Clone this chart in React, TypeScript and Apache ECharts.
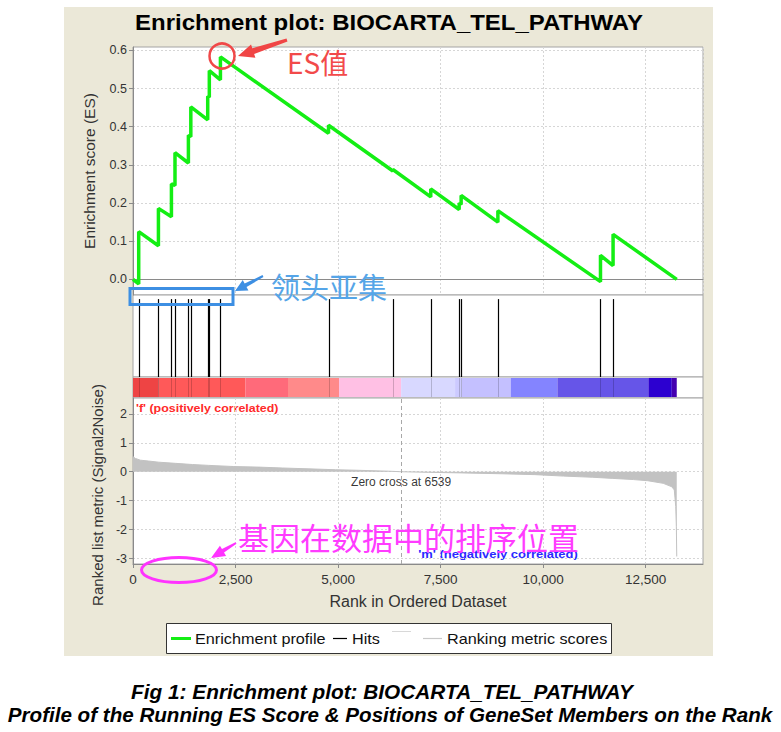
import React, { useEffect, useRef } from 'react';
import * as echarts from 'echarts';

// ---------- data ----------
const rankTicks = [0, 2500, 5000, 7500, 10000, 12500];
const esTicks = [0, 0.1, 0.2, 0.3, 0.4, 0.5, 0.6];
const metricTicks = [-3, -2, -1, 0, 1, 2];

const esRanks = [0, 139, 139, 620, 620, 937, 937, 1024, 1024, 1351, 1351, 1410, 1410, 1822, 1822, 1861, 1861, 2132, 2132, 4768, 4768, 6337, 6337, 7261, 7261, 7954, 7954, 8002, 8002, 8898, 8898, 11400, 11400, 11707, 11707, 13260];
const esValues = [0, -0.012, 0.125, 0.088, 0.186, 0.164, 0.25, 0.246, 0.332, 0.305, 0.378, 0.374, 0.452, 0.418, 0.48, 0.477, 0.547, 0.523, 0.583, 0.383, 0.404, 0.284, 0.288, 0.216, 0.237, 0.183, 0.2, 0.196, 0.22, 0.15, 0.18, -0.006, 0.063, 0.036, 0.118, 0];

const hitRanks = [139, 620, 937, 1024, 1351, 1410, 1822, 1861, 2132, 4768, 6337, 7261, 7954, 8002, 8898, 11400, 11707];

const colorBreaks = [0, 627, 2739, 3780, 5024, 6539, 7854, 8017, 9212, 10349, 12568, 13139, 13260];

const metricRanks = [0, 60, 180, 380, 630, 1040, 1450, 1850, 2460, 3070, 3640, 4290, 4940, 5500, 6230, 6539, 7200, 8000, 9000, 9800, 10500, 11200, 11700, 12200, 12550, 12930, 13140, 13200, 13235, 13250, 13260];
const metricValues = [0.52, 0.46, 0.4, 0.37, 0.33, 0.29, 0.25, 0.22, 0.18, 0.16, 0.13, 0.1, 0.07, 0.05, 0.02, 0, -0.02, -0.04, -0.07, -0.1, -0.15, -0.19, -0.23, -0.27, -0.31, -0.4, -0.52, -0.63, -1.2, -1.9, -2.93];

const zeroCross = 6539;
const zeroCrossLabelY = -0.345;
const rankMax = 13900;

// ---------- styles ----------
const colorPalette = ['#ee4444', '#ff5959', '#ff6a7a', '#ff8a8a', '#ffc0e4', '#d8d8ff', '#cccaff', '#c4c0ff', '#8484ff', '#6655e8', '#2c00d0', '#4400b0'];
const FONT = '"Liberation Sans", Arial, sans-serif';
const CJK = '"Noto Sans CJK SC", sans-serif';
const NARROW = '"Liberation Sans Narrow", "Arial Narrow", "Liberation Sans", sans-serif';
const GREEN = '#14ee14';
const GRID_LEFT = 133;
const GRID_W = 570;

function arrowPoints(x1: number, y1: number, x2: number, y2: number, headLen: number, headW: number, baseW: number, tailW: number) {
  const dx = x2 - x1, dy = y2 - y1;
  const L = Math.hypot(dx, dy);
  const ux = dx / L, uy = dy / L;
  const nx = -uy, ny = ux;
  const bx = x2 - ux * headLen, by = y2 - uy * headLen;
  return [
    [x1 + nx * tailW / 2, y1 + ny * tailW / 2],
    [bx + nx * baseW / 2, by + ny * baseW / 2],
    [bx + nx * headW / 2, by + ny * headW / 2],
    [x2, y2],
    [bx - nx * headW / 2, by - ny * headW / 2],
    [bx - nx * baseW / 2, by - ny * baseW / 2],
    [x1 - nx * tailW / 2, y1 - ny * tailW / 2],
  ];
}

const dashed = { type: [2, 2] as any, color: '#d6d6d6', width: 1 };

export default function App() {
  const ref = useRef<HTMLDivElement>(null);
  useEffect(() => {
    if (!ref.current) return;
    const chart = echarts.init(ref.current, null, { renderer: 'svg' });
    const gridBase = { left: GRID_LEFT, width: GRID_W, show: true, backgroundColor: '#fff', borderColor: '#a4a4a4', borderWidth: 1 };
    const hiddenX = (gi: number) => ({
      type: 'value', gridIndex: gi, min: 0, max: rankMax, interval: 2500,
      axisLine: { show: false }, axisTick: { show: false }, axisLabel: { show: false }, splitLine: { show: false },
    });
    const legendText = (x: number, text: string) => ({
      type: 'text', x, y: 638.5, scaleX: 1.08,
      style: { text, align: 'left', verticalAlign: 'middle', fill: '#111', font: `15px ${FONT}` },
    });
    const option: any = {
      animation: false,
      backgroundColor: '#ffffff',
      grid: [
        { ...gridBase, top: 47, height: 248 },
        { ...gridBase, top: 295, height: 82 },
        { ...gridBase, top: 377, height: 21 },
        { ...gridBase, top: 398, height: 166 },
      ],
      xAxis: [
        {
          type: 'value', gridIndex: 0, min: 0, max: rankMax, interval: 2500,
          axisLine: { show: true, onZero: true, lineStyle: { color: '#8a8a8a', width: 1 } },
          axisTick: { show: false }, axisLabel: { show: false },
          splitLine: { show: true, lineStyle: dashed },
        },
        hiddenX(1),
        hiddenX(2),
        {
          type: 'value', gridIndex: 3, min: 0, max: rankMax, interval: 2500,
          axisLine: { show: true, onZero: false, lineStyle: { color: '#8a8a8a' } },
          axisTick: { show: true, customValues: rankTicks, length: 4, lineStyle: { color: '#8a8a8a' } },
          axisLabel: { show: true, customValues: rankTicks, formatter: (v: number) => v.toLocaleString('en-US'), fontSize: 13.5, color: '#333', fontFamily: FONT, margin: 8 },
          splitLine: { show: true, lineStyle: dashed },
          name: 'Rank in Ordered Dataset', nameLocation: 'middle', nameGap: 29,
          nameTextStyle: { fontSize: 16, color: '#333', fontFamily: FONT },
        },
      ],
      yAxis: [
        {
          type: 'value', gridIndex: 0, min: -0.041, max: 0.609,
          axisLine: { show: true, lineStyle: { color: '#8a8a8a' } },
          axisTick: { show: true, customValues: esTicks, length: 4, lineStyle: { color: '#8a8a8a' } },
          axisLabel: { show: true, customValues: esTicks, formatter: (v: number) => v.toFixed(1), fontSize: 12.5, color: '#333', fontFamily: FONT, margin: 6 },
          splitLine: { show: true, lineStyle: dashed },
          name: 'Enrichment score (ES)', nameLocation: 'middle', nameGap: 36,
          nameTextStyle: { fontSize: 15.5, color: '#333', fontFamily: FONT },
        },
        { type: 'value', gridIndex: 1, min: 0, max: 1, show: false, splitLine: { show: false } },
        { type: 'value', gridIndex: 2, min: -0.05, max: 1.05, show: false, splitLine: { show: false } },
        {
          type: 'value', gridIndex: 3, min: -3.19, max: 2.55,
          axisLine: { show: true, lineStyle: { color: '#8a8a8a' } },
          axisTick: { show: true, customValues: metricTicks, length: 4, lineStyle: { color: '#8a8a8a' } },
          axisLabel: { show: true, customValues: metricTicks, fontSize: 12.5, color: '#333', fontFamily: FONT, margin: 6 },
          splitLine: { show: true, lineStyle: dashed },
        },
      ],
      series: [
        {
          type: 'line', name: 'Enrichment profile', xAxisIndex: 0, yAxisIndex: 0,
          data: esRanks.map((r, i) => [r, esValues[i]]),
          showSymbol: false, lineStyle: { color: GREEN, width: 3.5 }, z: 5,
        },
        {
          type: 'custom', name: 'Hits', xAxisIndex: 1, yAxisIndex: 1,
          data: hitRanks.map((r) => [r, 0]), encode: { x: 0, y: 1 },
          renderItem: (_p: any, api: any) => {
            const a = api.coord([api.value(0), 0]);
            const b = api.coord([api.value(0), 0.95]);
            const x = Math.round(a[0]) + 0.5;
            return { type: 'line', shape: { x1: x, y1: a[1], x2: x, y2: b[1] }, style: { stroke: '#000', lineWidth: 1.2 } };
          },
        },
        {
          type: 'custom', name: 'Colorbar', xAxisIndex: 2, yAxisIndex: 2,
          data: colorBreaks.slice(0, -1).map((s, i) => [s, colorBreaks[i + 1], i]), encode: { x: [0, 1] },
          renderItem: (_p: any, api: any) => {
            const a = api.coord([api.value(0), 1]);
            const b = api.coord([api.value(1), 0]);
            return { type: 'rect', shape: { x: a[0], y: a[1], width: b[0] - a[0], height: b[1] - a[1] }, style: { fill: colorPalette[api.value(2)] } };
          },
        },
        {
          type: 'custom', name: 'HitsOnBar', xAxisIndex: 2, yAxisIndex: 2,
          data: hitRanks.map((r) => [r, 0]), encode: { x: 0, y: 1 }, z: 3,
          renderItem: (_p: any, api: any) => {
            const a = api.coord([api.value(0), 0]);
            const b = api.coord([api.value(0), 1]);
            const x = Math.round(a[0]) + 0.5;
            return { type: 'line', shape: { x1: x, y1: a[1], x2: x, y2: b[1] }, style: { stroke: 'rgba(0,0,0,0.18)', lineWidth: 1 } };
          },
        },
        {
          type: 'line', name: 'Ranking metric scores', xAxisIndex: 3, yAxisIndex: 3,
          data: metricRanks.map((r, i) => [r, metricValues[i]]),
          showSymbol: false, lineStyle: { color: '#c2c2c2', width: 1 }, areaStyle: { color: '#c2c2c2', opacity: 1 },
          markLine: {
            silent: true, symbol: 'none', label: { show: false },
            lineStyle: { color: '#a8a8a8', type: [4, 3], width: 1 },
            data: [{ xAxis: zeroCross }],
          },
        },
        {
          type: 'scatter', xAxisIndex: 3, yAxisIndex: 3, data: [[zeroCross, zeroCrossLabelY]],
          symbolSize: 1, itemStyle: { color: 'transparent' },
          label: { show: true, position: 'inside', formatter: `Zero cross at ${zeroCross}`, fontSize: 12, color: '#000', fontFamily: FONT },
        },
      ],
      graphic: [
        { type: 'rect', z: -100, shape: { x: 64, y: 7, width: 649, height: 649 }, style: { fill: '#ebe8d8' } },
        { type: 'text', x: 389, y: 22, scaleX: 1.09, style: { text: 'Enrichment plot: BIOCARTA_TEL_PATHWAY', align: 'center', verticalAlign: 'middle', fill: '#000', font: `bold 22px ${FONT}` } },
        { type: 'text', x: 136, y: 407.5, scaleX: 1.13, style: { text: "'f' (positively correlated)", align: 'left', verticalAlign: 'middle', fill: '#ff2a2a', font: `bold 11px ${FONT}` } },
        { type: 'text', x: 498, y: 554, scaleX: 1.18, style: { text: "'m' (negatively correlated)", align: 'center', verticalAlign: 'middle', fill: '#2a2aff', font: `bold 11px ${FONT}` } },
        { type: 'text', x: 97, y: 495, rotation: Math.PI / 2, style: { text: 'Ranked list metric (Signal2Noise)', align: 'center', verticalAlign: 'middle', fill: '#333', font: `15px ${FONT}` } },
        // annotations
        { type: 'circle', z: 20, shape: { cx: 222, cy: 56, r: 12.5 }, style: { fill: 'none', stroke: '#f04848', lineWidth: 2.5 } },
        { type: 'polygon', z: 20, shape: { points: arrowPoints(287, 40, 238, 56, 16, 14, 6, 3) }, style: { fill: '#f04545' } },
        { type: 'text', z: 20, x: 287, y: 62, style: { text: 'ES值', align: 'left', verticalAlign: 'middle', fill: '#f24a4a', font: `28px ${CJK}` } },
        { type: 'rect', z: 20, shape: { x: 130, y: 288.5, width: 103, height: 16 }, style: { fill: 'none', stroke: '#3d8fe3', lineWidth: 3 } },
        { type: 'polygon', z: 20, shape: { points: arrowPoints(263, 276, 235, 291, 12, 12, 4, 2) }, style: { fill: '#3d8fe3' } },
        { type: 'text', z: 20, x: 271, y: 286, style: { text: '领头亚集', align: 'left', verticalAlign: 'middle', fill: '#55a5e8', font: `29px ${CJK}` } },
        { type: 'ellipse', z: 20, shape: { cx: 179, cy: 570, rx: 37.5, ry: 12.5 }, style: { fill: 'none', stroke: '#ff33ff', lineWidth: 3 } },
        { type: 'polygon', z: 20, shape: { points: arrowPoints(236, 543, 211, 558, 14, 12, 4, 2) }, style: { fill: '#ff33ff' } },
        { type: 'text', z: 20, x: 238, y: 536, style: { text: '基因在数据中的排序位置', align: 'left', verticalAlign: 'middle', fill: '#ff3cff', font: `31px ${CJK}` } },
        // legend
        { type: 'rect', shape: { x: 166.5, y: 623.5, width: 445, height: 30 }, style: { fill: '#fff', stroke: '#333', lineWidth: 1 } },
        { type: 'line', shape: { x1: 171, y1: 638.5, x2: 191, y2: 638.5 }, style: { stroke: GREEN, lineWidth: 3 } },
        legendText(195, 'Enrichment profile'),
        { type: 'line', shape: { x1: 333, y1: 638.5, x2: 347, y2: 638.5 }, style: { stroke: '#000', lineWidth: 1.2 } },
        legendText(352, 'Hits'),
        { type: 'line', shape: { x1: 392, y1: 631.5, x2: 411, y2: 631.5 }, style: { stroke: '#d8d8d8', lineWidth: 1 } },
        { type: 'line', shape: { x1: 423, y1: 638.5, x2: 442, y2: 638.5 }, style: { stroke: '#c8c8c8', lineWidth: 1.2 } },
        legendText(447, 'Ranking metric scores'),
        // caption
        { type: 'text', x: 382, y: 691, style: { text: 'Fig 1: Enrichment plot: BIOCARTA_TEL_PATHWAY', align: 'center', verticalAlign: 'middle', fill: '#000', font: `italic bold 20.8px ${NARROW}` } },
        { type: 'text', x: 390, y: 714, style: { text: 'Profile of the Running ES Score & Positions of GeneSet Members on the Rank', align: 'center', verticalAlign: 'middle', fill: '#000', font: `italic bold 20.6px ${NARROW}` } },
        { type: 'text', x: 358, y: 739, style: { text: 'Ordered List', align: 'center', verticalAlign: 'middle', fill: '#000', font: `italic bold 20.6px ${NARROW}` } },
      ],
    };
    chart.setOption(option);
    return () => chart.dispose();
  }, []);
  return <div ref={ref} style={{ position: 'absolute', left: 0, top: 0, width: 781, height: 732 }} />;
}
